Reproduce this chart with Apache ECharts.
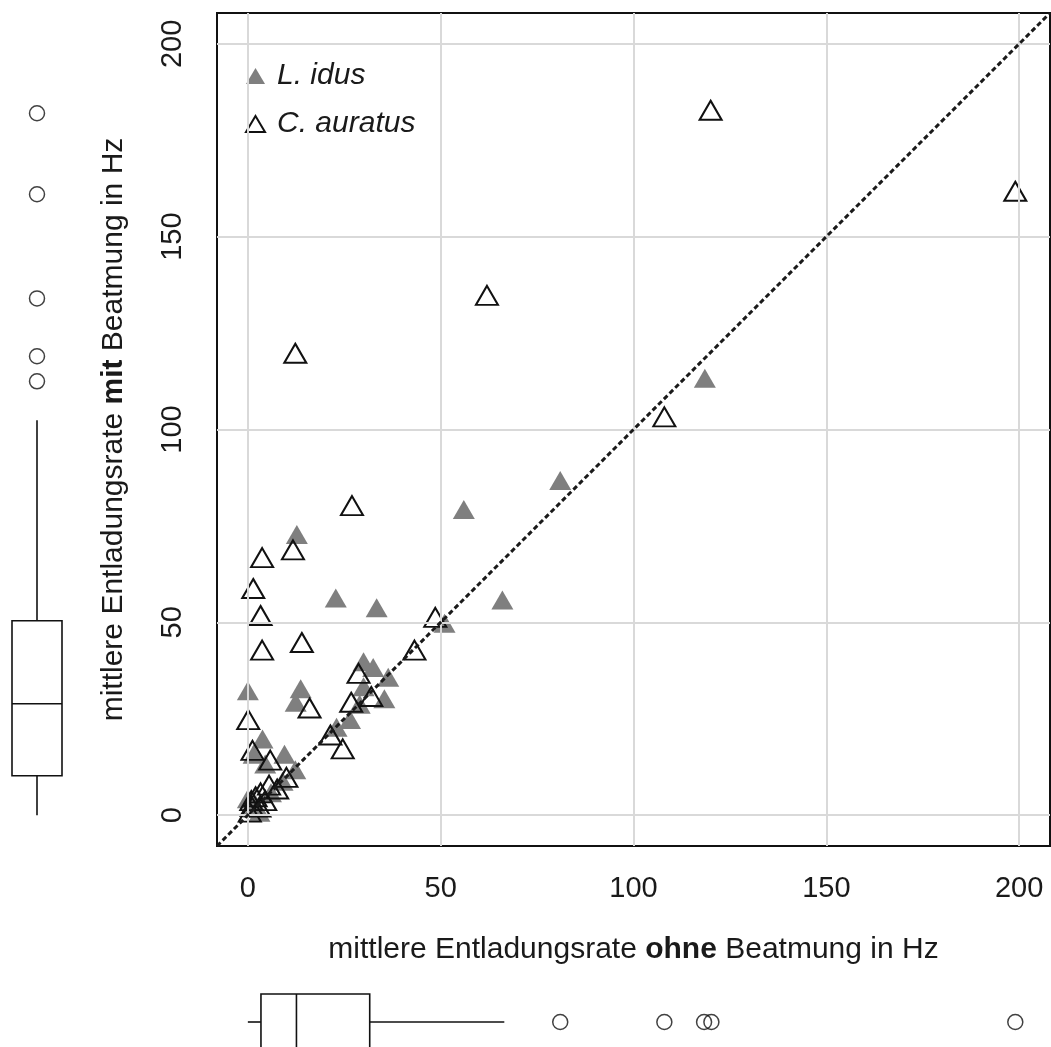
<!DOCTYPE html>
<html>
<head>
<meta charset="utf-8">
<script src="https://cdn.jsdelivr.net/npm/echarts@6/dist/echarts.min.js"></script>
<style>
html,body{margin:0;padding:0;background:#fff;}
#chart{width:1051px;height:1047px;}
</style>
</head>
<body>
<div id="chart"></div>
<script>
// ---- data ----
const axisRange = [-8, 208];
const xTicks = [0, 50, 100, 150, 200];
const yTicks = [0, 50, 100, 150, 200];
const seriesNames = ['L. idus', 'C. auratus'];

// L. idus (filled grey triangles): [ohne, mit]
const lIdusPoints = [
  [0, 31.5], [13.7, 32], [12.4, 28.5], [12.7, 72], [22.8, 55.5], [33.4, 53],
  [56, 78.5], [81, 86], [118.5, 112.5], [66, 55], [51, 49], [30, 39],
  [32.5, 37.5], [36.4, 35], [30, 32.5], [35.4, 29.4], [29, 28], [26.5, 24],
  [23, 22], [3.8, 19], [1.5, 15], [9.5, 15], [4.5, 12.5], [12.3, 11],
  [9, 8], [0, 3.5], [1.6, 1], [3, 0], [6, 5], [2, 2]
];
// C. auratus (open triangles): [ohne, mit]
const cAuratusPoints = [
  [120, 182], [199, 161], [62, 134], [12.3, 119], [108, 102.5], [27, 79.5],
  [11.7, 68], [3.7, 66], [1.4, 58], [3.3, 51], [48.6, 50.5], [14, 44],
  [43.2, 42], [3.7, 42], [28.7, 36], [32, 30], [26.8, 28.5], [16, 27],
  [0.1, 24], [21.4, 20], [24.6, 16.4], [1.2, 16], [5.8, 13.5], [10, 9],
  [7.6, 6], [5.5, 7], [3.3, 5], [0.9, 3], [3, 1.3], [0.5, 0], [1, 1.5],
  [2, 4], [4.5, 3]
];
// boxplot statistics [min, Q1, median, Q3, max] and outliers
const boxStatsMit = [0, 10.2, 28.9, 50.4, 102.4];
const outliersMit = [112.5, 119, 134, 161, 182];
const boxStatsOhne = [0, 3.4, 12.6, 31.6, 66.5];
const outliersOhne = [81, 108, 118.3, 120.2, 199];

// ---- chart ----
const FONT = 'Liberation Sans, Arial, Helvetica, sans-serif';
const chart = echarts.init(document.getElementById('chart'), null, {renderer: 'canvas'});

const gridLineData = xTicks.map(v => ({xAxis: v})).concat(yTicks.map(v => ({yAxis: v})));

function vBox(params, api) {
  const c = api.value(0);
  const p = [1,2,3,4,5].map(i => api.coord([c, api.value(i)]));
  const hw = 25;
  const x = p[0][0];
  const st = {stroke: '#111', lineWidth: 1.6, fill: null};
  return {type: 'group', children: [
    {type: 'line', shape: {x1: x, y1: p[0][1], x2: x, y2: p[1][1]}, style: st},
    {type: 'line', shape: {x1: x, y1: p[3][1], x2: x, y2: p[4][1]}, style: st},
    {type: 'rect', shape: {x: x - hw, y: p[3][1], width: 2*hw, height: p[1][1]-p[3][1]}, style: {stroke: '#111', lineWidth: 1.6, fill: '#fff'}},
    {type: 'line', shape: {x1: x - hw, y1: p[2][1], x2: x + hw, y2: p[2][1]}, style: st}
  ]};
}
function hBox(params, api) {
  const c = api.value(5);
  const p = [0,1,2,3,4].map(i => api.coord([api.value(i), c]));
  const hh = 28;
  const y = p[0][1];
  const st = {stroke: '#111', lineWidth: 1.6, fill: null};
  return {type: 'group', children: [
    {type: 'line', shape: {x1: p[0][0], y1: y, x2: p[1][0], y2: y}, style: st},
    {type: 'line', shape: {x1: p[3][0], y1: y, x2: p[4][0], y2: y}, style: st},
    {type: 'rect', shape: {x: p[1][0], y: y - hh, width: p[3][0]-p[1][0], height: 2*hh}, style: {stroke: '#111', lineWidth: 1.6, fill: '#fff'}},
    {type: 'line', shape: {x1: p[2][0], y1: y - hh, x2: p[2][0], y2: y + hh}, style: st}
  ]};
}

const option = {
  backgroundColor: '#fff',
  animation: false,
  textStyle: {fontFamily: FONT},
  grid: [
    {left: 217, top: 13, width: 833, height: 833, show: true, borderColor: '#111', borderWidth: 2, backgroundColor: 'transparent'},
    {left: 0, top: 13, width: 74, height: 833},
    {left: 217, top: 997, width: 833, height: 50}
  ],
  xAxis: [
    {gridIndex: 0, type: 'value', min: axisRange[0], max: axisRange[1],
     axisLine: {show: false}, splitLine: {show: false},
     axisTick: {show: true, customValues: xTicks, length: 14, lineStyle: {color: '#111', width: 1.5}},
     axisLabel: {customValues: xTicks, fontSize: 29, color: '#1a1a1a', margin: 28, fontFamily: FONT},
     name: 'mittlere Entladungsrate {b|ohne} Beatmung in Hz', nameLocation: 'middle', nameGap: 89,
     nameTextStyle: {fontSize: 30, color: '#1a1a1a', fontFamily: FONT,
       rich: {b: {fontSize: 30, fontWeight: 'bold', color: '#1a1a1a', fontFamily: FONT}}}},
    {gridIndex: 1, type: 'value', min: 0, max: 1, show: false},
    {gridIndex: 2, type: 'value', min: axisRange[0], max: axisRange[1], show: false}
  ],
  yAxis: [
    {gridIndex: 0, type: 'value', min: axisRange[0], max: axisRange[1],
     axisLine: {show: false}, splitLine: {show: false},
     axisTick: {show: true, customValues: yTicks, length: 14, lineStyle: {color: '#111', width: 1.5}},
     axisLabel: {customValues: yTicks, fontSize: 29, color: '#1a1a1a', margin: 30, rotate: 90, fontFamily: FONT},
     name: 'mittlere Entladungsrate {b|mit} Beatmung in Hz', nameLocation: 'middle', nameGap: 88, nameRotate: 90,
     nameTextStyle: {fontSize: 30, color: '#1a1a1a', fontFamily: FONT,
       rich: {b: {fontSize: 30, fontWeight: 'bold', color: '#1a1a1a', fontFamily: FONT}}}},
    {gridIndex: 1, type: 'value', min: axisRange[0], max: axisRange[1], show: false},
    {gridIndex: 2, type: 'value', min: 0, max: 1, show: false}
  ],
  legend: {
    data: seriesNames, orient: 'vertical', left: 245, top: 61, itemGap: 18, padding: 0,
    itemWidth: 19, itemHeight: 16,
    textStyle: {fontSize: 30, fontStyle: 'italic', color: '#1a1a1a', fontFamily: FONT, padding: [0, 0, 0, 7]}
  },
  series: [
    {name: 'grid', type: 'line', xAxisIndex: 0, yAxisIndex: 0, data: [], z: 1, silent: true,
     markLine: {silent: true, symbol: ['none', 'none'], label: {show: false},
       lineStyle: {color: '#d9d9d9', width: 2, type: 'solid'}, data: gridLineData}},
    {name: seriesNames[0], type: 'scatter', xAxisIndex: 0, yAxisIndex: 0, data: lIdusPoints,
     symbol: 'triangle', symbolSize: [22, 19], symbolOffset: [0, -3], z: 3,
     itemStyle: {color: '#7f7f7f', opacity: 1}},
    {name: seriesNames[1], type: 'scatter', xAxisIndex: 0, yAxisIndex: 0, data: cAuratusPoints,
     symbol: 'triangle', symbolSize: [22, 19], symbolOffset: [0, -3], z: 4,
     itemStyle: {color: 'rgba(255,255,255,0)', borderColor: '#111', borderWidth: 2, opacity: 1}},
    {name: 'diag', type: 'line', xAxisIndex: 0, yAxisIndex: 0, z: 5, silent: true,
     data: [[axisRange[0], axisRange[0]], [axisRange[1], axisRange[1]]],
     symbol: 'none', lineStyle: {color: '#1a1a1a', width: 3, type: [5, 3]}},
    {name: 'boxMit', type: 'custom', xAxisIndex: 1, yAxisIndex: 1, renderItem: vBox,
     data: [[0.5].concat(boxStatsMit)], silent: true},
    {name: 'outMit', type: 'scatter', xAxisIndex: 1, yAxisIndex: 1, symbol: 'circle', symbolSize: 15,
     data: outliersMit.map(v => [0.5, v]), silent: true,
     itemStyle: {color: 'rgba(255,255,255,0)', borderColor: '#111', borderWidth: 1.5}},
    {name: 'boxOhne', type: 'custom', xAxisIndex: 2, yAxisIndex: 2, renderItem: hBox, clip: false,
     data: [boxStatsOhne.concat([0.5])], silent: true},
    {name: 'outOhne', type: 'scatter', xAxisIndex: 2, yAxisIndex: 2, symbol: 'circle', symbolSize: 15,
     data: outliersOhne.map(v => [v, 0.5]), silent: true,
     itemStyle: {color: 'rgba(255,255,255,0)', borderColor: '#111', borderWidth: 1.5}}
  ]
};
chart.setOption(option);
</script>
</body>
</html>
